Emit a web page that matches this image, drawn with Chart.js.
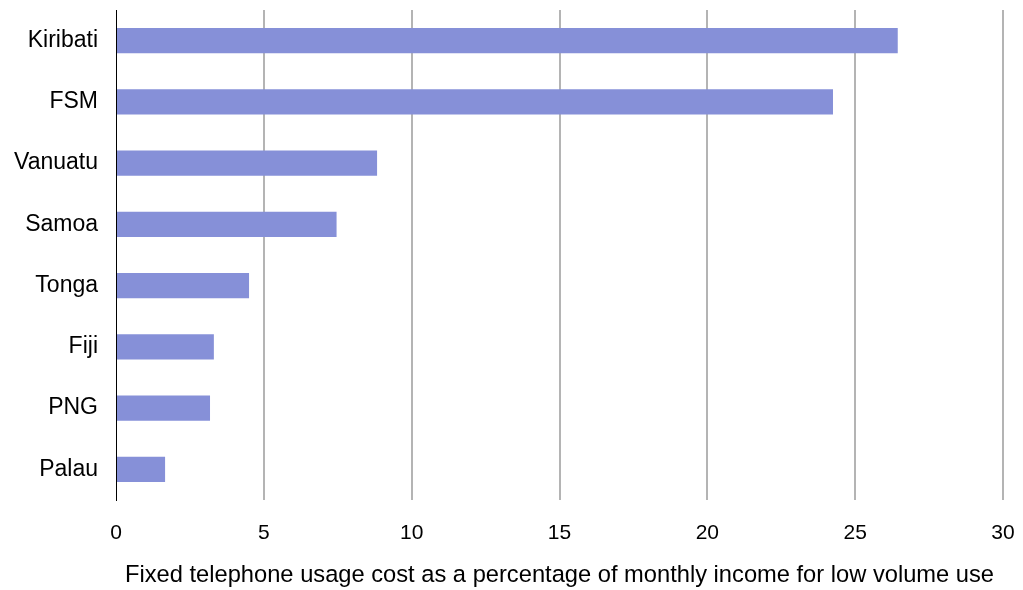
<!DOCTYPE html>
<html>
<head>
<meta charset="utf-8">
<script src="https://cdn.jsdelivr.net/npm/chart.js@4.4.0/dist/chart.umd.min.js"></script>
<style>
  html, body { margin: 0; padding: 0; background: #fff; }
  #wrap { width: 1023px; height: 590px; }
</style>
</head>
<body>
<div id="wrap"><canvas id="chart" width="1023" height="590"></canvas></div>
<script>
const countries = ['Kiribati', 'FSM', 'Vanuatu', 'Samoa', 'Tonga', 'Fiji', 'PNG', 'Palau'];
const costPct = [26.44, 24.25, 8.83, 7.46, 4.5, 3.31, 3.18, 1.66];
const xTicks = [0, 5, 10, 15, 20, 25, 30];
const xTitle = 'Fixed telephone usage cost as a percentage of monthly income for low volume use';

const fontFamily = 'Arial, "Liberation Sans", sans-serif';

new Chart(document.getElementById('chart').getContext('2d'), {
  type: 'bar',
  data: {
    labels: countries,
    datasets: [{
      data: costPct,
      backgroundColor: '#8690d8',
      borderWidth: 0,
      categoryPercentage: 1,
      barPercentage: 0.41
    }]
  },
  options: {
    indexAxis: 'y',
    responsive: false,
    animation: false,
    layout: { padding: { top: 10, right: 20, left: 0, bottom: 0 } },
    plugins: {
      legend: { display: false },
      tooltip: { enabled: false }
    },
    scales: {
      x: {
        min: 0,
        max: 30,
        afterBuildTicks: (scale) => { scale.ticks = xTicks.map(v => ({ value: v })); },
        afterFit: (scale) => {
          scale.height = 90;
          scale.paddingLeft = 0;
          scale.paddingRight = 0;
        },
        border: { display: false },
        grid: {
          drawTicks: false,
          lineWidth: 2,
          color: (ctx) => ctx.tick && ctx.tick.value === 0 ? 'rgba(0,0,0,0)' : '#b4b4b4'
        },
        ticks: {
          padding: 21,
          color: '#000',
          font: { family: fontFamily, size: 21 }
        },
        title: {
          display: true,
          text: xTitle,
          color: '#000',
          font: { family: fontFamily, size: 23.7 },
          padding: { top: 4, bottom: 0 }
        }
      },
      y: {
        afterFit: (scale) => {
          scale.width = 116;
          scale.paddingTop = 0;
          scale.paddingBottom = 0;
        },
        border: { display: true, color: '#000', width: 1 },
        grid: { display: false, drawTicks: false },
        ticks: {
          padding: 18,
          color: '#000',
          font: { family: fontFamily, size: 23 }
        }
      }
    }
  }
});
</script>
</body>
</html>
